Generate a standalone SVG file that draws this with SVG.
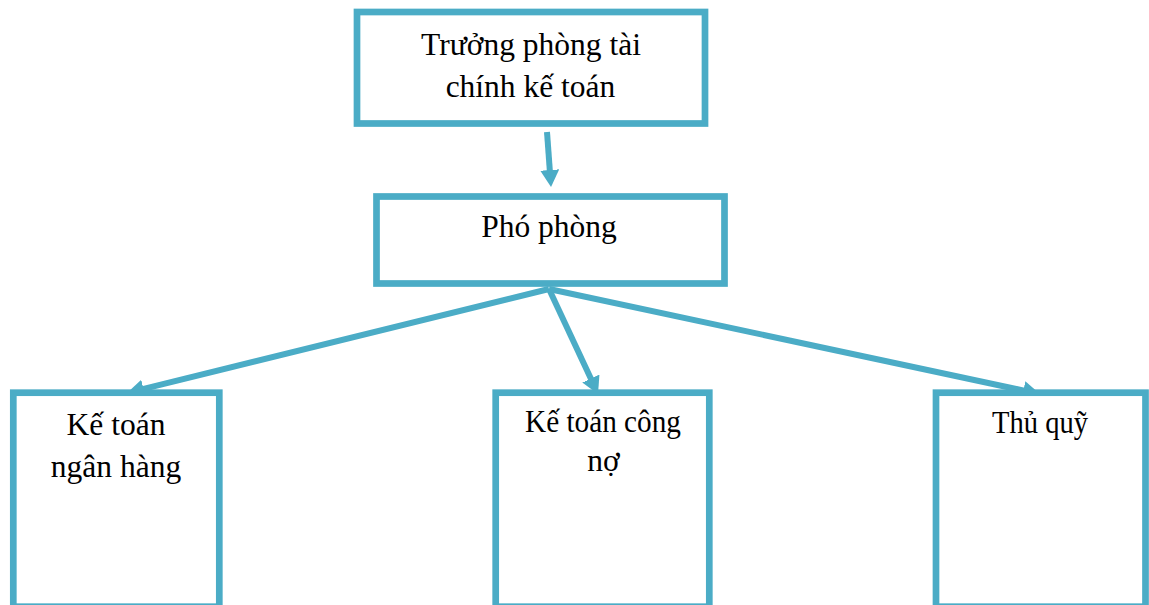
<svg xmlns="http://www.w3.org/2000/svg" width="1149" height="605" viewBox="0 0 1149 605">
  <style>
    .box { fill: #ffffff; stroke: #4BACC6; stroke-width: 6.7; }
    .link { stroke: #4BACC6; stroke-width: 6; fill: none; }
    .label { font-family: "Liberation Serif", "Times New Roman", serif; font-size: 31.5px; fill: #000000; text-anchor: middle; }
  </style>
  <defs>
    <marker id="arrow" markerUnits="userSpaceOnUse" markerWidth="18" markerHeight="20" refX="3" refY="9.5" orient="auto">
      <path d="M0,0 L17,9.5 L0,19 Z" fill="#4BACC6"/>
    </marker>
  </defs>

  <rect width="1149" height="605" fill="#ffffff"/>

  <g id="connectors">
    <line class="link" x1="547" y1="132" x2="550" y2="173" marker-end="url(#arrow)"/>
    <line class="link" x1="549" y1="289" x2="140.6" y2="389.6" marker-end="url(#arrow)"/>
    <line class="link" x1="549" y1="289" x2="592.1" y2="381.3" marker-end="url(#arrow)"/>
    <line class="link" x1="549" y1="289" x2="1026.3" y2="391.1" marker-end="url(#arrow)"/>
  </g>

  <g id="truong-phong">
    <rect class="box" x="357" y="12" width="348" height="111.5"/>
    <text class="label" x="531" y="54.5">Trưởng phòng tài</text>
    <text class="label" x="530.5" y="97">chính kế toán</text>
  </g>

  <g id="pho-phong">
    <rect class="box" x="376.5" y="196.5" width="348" height="87"/>
    <text class="label" x="549" y="237">Phó phòng</text>
  </g>

  <g id="ke-toan-ngan-hang">
    <rect class="box" x="13.3" y="392.7" width="206" height="214"/>
    <text class="label" x="116" y="435">Kế toán</text>
    <text class="label" x="116" y="477">ngân hàng</text>
  </g>

  <g id="ke-toan-cong-no">
    <rect class="box" x="495.7" y="392.7" width="213.6" height="214"/>
    <text class="label" x="603" y="432" textLength="156" lengthAdjust="spacingAndGlyphs">Kế toán công</text>
    <text class="label" x="603.5" y="471">nợ</text>
  </g>

  <g id="thu-quy">
    <rect class="box" x="936" y="392.7" width="209.5" height="214"/>
    <text class="label" x="1040" y="433" textLength="96" lengthAdjust="spacingAndGlyphs">Thủ quỹ</text>
  </g>
</svg>
